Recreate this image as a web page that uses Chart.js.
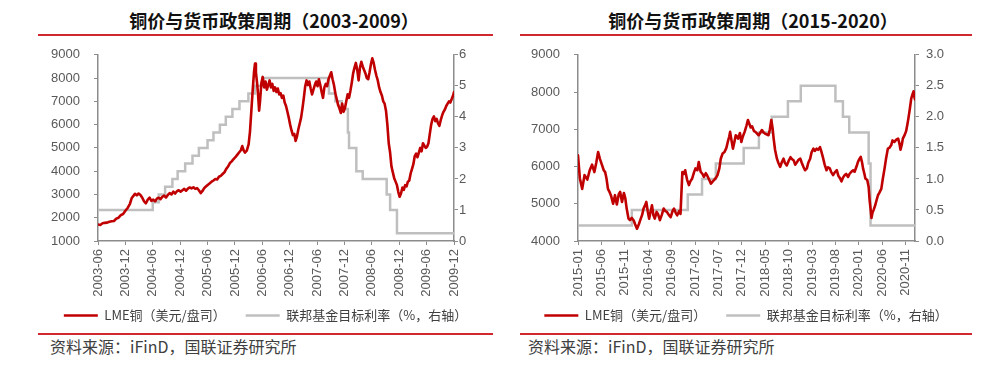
<!DOCTYPE html>
<html>
<head>
<meta charset="utf-8">
<script src="https://cdn.jsdelivr.net/npm/chart.js@4.4.1/dist/chart.umd.min.js"></script>
<style>
  body { margin: 0; background: #fff; width: 989px; height: 365px; position: relative; overflow: hidden; font-family: "Noto Sans CJK SC", sans-serif; }
  .ttl { position: absolute; top: 9px; width: 400px; text-align: center; font-size: 18px; font-weight: bold; line-height: 22px; color: #111; }
  .rl { position: absolute; height: 2px; background: #d0282e; }
  .src { position: absolute; top: 336px; font-size: 16px; line-height: 20px; color: #404040; white-space: nowrap; }
  .box { position: absolute; top: 33px; height: 299px; }
</style>
</head>
<body>
<div class="ttl" style="left:74px">铜价与货币政策周期（2003-2009）</div>
<div class="rl" style="left:38px;top:34px;width:455px"></div>
<div class="box" style="left:38px;width:455px"><canvas id="left"></canvas></div>
<div class="rl" style="left:38px;top:333px;width:455px"></div>
<div class="src" style="left:50px">资料来源：iFinD，国联证券研究所</div>

<div class="ttl" style="left:553px">铜价与货币政策周期（2015-2020）</div>
<div class="rl" style="left:520px;top:34px;width:452px"></div>
<div class="box" style="left:520px;width:452px"><canvas id="right"></canvas></div>
<div class="rl" style="left:520px;top:333px;width:452px"></div>
<div class="src" style="left:528px">资料来源：iFinD，国联证券研究所</div>

<script>
// legend names
const copperName = 'LME铜（美元/盘司）'
const fedName = '联邦基金目标利率（%，右轴）'

// left chart: months counted from 2003-06 (tick every 6 months)
const leftStart = [2003, 6]
const cuLeftM = [0,0.5,1,1.5,2,2.5,3,3.5,4,4.5,5,5.5,6,6.5,7,7.4,7.8,8.1,8.5,8.9,9.3,9.7,10.1,10.5,10.9,11.3,11.7,12.1,12.5,12.9,13.3,13.7,14.1,14.5,14.9,15.3,15.7,16.1,16.5,16.9,17.3,17.7,18.1,18.5,18.9,19.3,19.7,20.1,20.5,20.9,21.3,21.7,22.1,22.5,22.9,23.3,23.7,24.1,24.5,24.9,25.3,25.7,26.1,26.5,26.9,27.3,27.7,28.1,28.5,28.9,29.3,29.7,30.1,30.5,30.9,31.3,31.6,31.9,32.2,32.6,33.0,33.3,33.6,33.9,34.2,34.4,34.6,34.9,35.1,35.3,35.5,35.8,36.1,36.4,36.7,37.0,37.3,37.6,37.9,38.2,38.5,38.8,39.1,39.4,39.7,40.0,40.3,40.6,40.9,41.2,41.5,41.8,42.1,42.4,42.7,43.0,43.3,43.6,43.9,44.2,44.5,44.8,45.1,45.4,45.7,46.0,46.3,46.6,46.9,47.2,47.5,47.8,48.1,48.4,48.7,49.0,49.3,49.6,49.9,50.2,50.5,50.8,51.1,51.4,51.7,52.0,52.3,52.6,52.9,53.2,53.5,53.8,54.1,54.4,54.7,55.0,55.3,55.6,55.9,56.2,56.5,56.8,57.1,57.4,57.7,58.0,58.3,58.6,58.9,59.2,59.5,59.8,60.1,60.4,60.7,61.0,61.3,61.6,61.9,62.2,62.5,62.8,63.1,63.4,63.7,64.0,64.3,64.6,64.9,65.2,65.5,65.8,66.1,66.4,66.7,67.0,67.3,67.6,67.9,68.2,68.5,68.8,69.1,69.4,69.7,70.0,70.3,70.6,70.9,71.2,71.5,71.8,72.1,72.4,72.7,73.0,73.3,73.6,73.9,74.2,74.5,74.8,75.1,75.4,75.7,76.0,76.3,76.6,76.9,77.2,77.5,77.8,78.0]
const cuLeftV = [1710,1690,1760,1780,1790,1830,1850,1860,1960,2000,2110,2160,2300,2420,2600,2850,2950,3030,2960,3040,2980,2860,2700,2620,2780,2860,2720,2780,2700,2820,2860,2800,2900,2950,2870,2980,3060,3000,3120,3040,3140,3180,3120,3180,3240,3160,3250,3300,3260,3310,3240,3270,3180,3060,3150,3280,3350,3420,3480,3550,3600,3660,3640,3760,3800,3880,3950,4100,4200,4350,4420,4520,4600,4700,4800,4900,5080,4900,4800,4880,5150,5700,6600,7500,8300,8620,8250,7700,7200,6600,7000,7800,8050,7600,7850,7500,7700,7900,7600,7750,7450,7600,7400,7550,7300,7350,7150,7250,6950,6800,6550,6300,6000,5750,5550,5600,5300,5500,5800,6050,6300,6700,7150,7650,7900,7700,7850,7550,7300,7500,7700,7850,7650,7950,7700,7400,7150,7600,7750,7650,7950,8100,8250,7950,7700,7350,7100,6850,6700,6500,6900,6550,6700,7000,7300,7150,7450,7800,8200,8450,8650,8350,7900,8450,8700,8500,8350,8200,8000,7950,8250,8600,8850,8650,8350,8100,7900,7600,7400,7250,7000,6900,6600,6000,5200,4800,4200,3950,3700,3550,3400,3100,2900,3050,3300,3200,3400,3350,3550,3600,3900,4100,4300,4650,4750,4600,4800,5000,4850,5200,5100,5000,5050,5200,5600,6000,6250,6350,6150,6250,6050,5950,6200,6400,6550,6650,6800,6900,7000,6950,7100,7250,7400]
const fedLeftM = [0,12.0,13.3,14.7,16.3,17.45,19.1,20.7,22.1,24.0,25.3,26.7,28.0,29.45,31.0,32.95,34.35,36.0,50.6,52.0,53.4,54.75,55.0,56.6,58.0,63.25,64.0,65.5,78]
const fedLeftV = [1.0,1.25,1.5,1.75,2.0,2.25,2.5,2.75,3.0,3.25,3.5,3.75,4.0,4.25,4.5,4.75,5.0,5.25,4.75,4.5,4.25,3.5,3.0,2.25,2.0,1.5,1.0,0.25,0.25]

// right chart: months counted from 2015-01 (tick every 5 months)
const rightStart = [2015, 1]
const cuRightM = [0,0.4,0.9,1.4,2.0,2.5,3.0,3.5,3.9,4.3,4.7,5.1,5.5,5.8,6.1,6.4,6.8,7.1,7.5,7.9,8.3,8.7,9.0,9.4,9.8,10.1,10.4,10.8,11.1,11.5,11.9,12.2,12.6,13.0,13.3,13.7,14.0,14.3,14.6,14.9,15.2,15.5,15.8,16.1,16.4,16.8,17.1,17.5,17.9,18.3,18.7,19.0,19.4,19.8,20.2,20.5,20.9,21.2,21.6,21.9,22.1,22.3,22.6,22.9,23.3,23.7,24.0,24.4,24.8,25.1,25.5,25.8,26.2,26.6,26.9,27.3,27.6,28.0,28.4,28.8,29.1,29.5,29.8,30.2,30.5,30.9,31.3,31.7,32.0,32.3,32.5,32.8,33.1,33.4,33.7,34.0,34.2,34.6,34.9,35.2,35.6,36.0,36.3,36.6,36.9,37.2,37.6,37.9,38.3,38.6,38.9,39.3,39.6,40.0,40.4,40.7,41.0,41.3,41.6,41.8,42.1,42.5,42.8,43.2,43.5,43.9,44.2,44.6,45.0,45.4,45.7,46.1,46.4,46.8,47.1,47.5,47.8,48.2,48.5,48.9,49.2,49.6,49.9,50.3,50.6,51.0,51.3,51.7,52.0,52.4,52.7,53.1,53.4,53.8,54.1,54.5,54.9,55.3,55.6,56.0,56.3,56.6,57.0,57.3,57.7,58.0,58.4,58.8,59.1,59.5,59.8,60.1,60.4,60.7,60.9,61.2,61.4,61.8,62.1,62.3,62.5,62.7,62.9,63.2,63.5,63.8,64.1,64.4,64.8,65.1,65.5,65.8,66.2,66.5,66.9,67.2,67.6,68.0,68.4,68.7,68.9,69.2,69.4,69.8,70.1,70.4,70.6,70.9,71.2,71.5,71.7,71.9,72.0]
const cuRightV = [6300,5680,5400,5770,5650,5900,6050,5850,6100,6390,6200,6050,5900,5850,5670,5400,5300,5200,5000,5230,4980,5250,5320,5050,5290,5150,4870,4600,4560,4620,4550,4450,4330,4450,4560,4700,4870,4950,5050,4800,4600,4780,4960,4700,4600,4780,4720,4560,4700,4870,4800,4780,4700,4640,4800,4870,4750,4690,4800,4730,5300,5850,5800,5900,5650,5500,5600,5680,5850,5950,5900,6120,5860,5800,5720,5820,5760,5650,5540,5600,5640,5700,5770,5950,6210,6350,6390,6500,6660,6800,6930,6700,6480,6650,6840,6800,6750,6900,6660,6800,6930,7100,7250,7150,7050,7080,6950,6930,6880,6840,6900,6980,6920,6880,6860,6840,7000,7250,7000,6750,6450,6210,6100,5990,6100,6210,6100,6030,6150,6250,6200,6160,6050,6120,6180,6210,6100,5980,5900,5950,6100,6210,6380,6480,6420,6480,6450,6520,6400,6210,6050,5900,5980,5950,5850,5770,5850,5900,5760,5680,5600,5700,5770,5800,5720,5800,5860,5900,5860,6000,6120,6200,6260,6100,5950,5800,5680,5640,5450,5100,4870,4620,4750,4850,4960,5100,5230,5300,5400,5650,5950,6200,6480,6500,6570,6700,6660,6720,6750,6600,6450,6600,6750,6850,6950,7150,7300,7550,7830,7950,8020,7850,7800]
const fedRightM = [0,11.5,23.45,26.5,29.45,35.4,38.65,41.4,44.85,47.6,55.0,56.6,57.95,62.1,62.5,72]
const fedRightV = [0.25,0.5,0.75,1.0,1.25,1.5,1.75,2.0,2.25,2.5,2.25,2.0,1.75,1.25,0.25,0.25]

const RED = '#c00000'
const GREY = '#bfbfbf'
const AXIS = '#8c8c8c'
const LABEL = '#595959'
const TICK_FONT = '13px "Liberation Sans", Arial, sans-serif'

Chart.defaults.font.family = '"Liberation Sans", Arial, "Noto Sans CJK SC", sans-serif'
Chart.defaults.font.size = 13
Chart.defaults.color = LABEL

function pts(xs, ys) {
  return xs.map((x, i) => ({x: x, y: ys[i]}))
}

function monthLabel(start, v) {
  let n = start[1] - 1 + v
  let y = start[0] + Math.floor(n / 12)
  let m = n % 12 + 1
  return y + '-' + (m < 10 ? '0' + m : m)
}

// vertical date labels under the x axis, drawn at the scale's own tick positions
function dateLabels(start) {
  return {
    id: 'dateLabels',
    afterDraw(chart) {
      const s = chart.scales.x
      const ctx = chart.ctx
      ctx.save()
      ctx.fillStyle = LABEL
      ctx.font = TICK_FONT
      ctx.textAlign = 'right'
      ctx.textBaseline = 'middle'
      s.ticks.forEach(t => {
        ctx.save()
        ctx.translate(s.getPixelForValue(t.value), s.top + 8)
        ctx.rotate(-Math.PI / 2)
        ctx.fillText(monthLabel(start, t.value), 0, 0)
        ctx.restore()
      })
      ctx.restore()
    }
  }
}

function axisY(pos, min, max, step, width, pad, fmt) {
  return {
    type: 'linear', position: pos, min: min, max: max,
    afterFit: (s) => { s.width = width },
    border: {display: true, color: AXIS, width: 1.5},
    grid: {display: true, drawOnChartArea: false, drawTicks: true, tickLength: 4, color: AXIS, lineWidth: 1},
    ticks: {stepSize: step, padding: pad, color: LABEL, font: {size: 13}, callback: fmt}
  }
}

function makeChart(id, o) {
  new Chart(document.getElementById(id), {
    type: 'line',
    data: {
      datasets: [
        {label: copperName, data: pts(o.cuM, o.cuV), yAxisID: 'y', borderColor: RED, backgroundColor: RED,
         borderWidth: 2.6, borderJoinStyle: 'round', borderCapStyle: 'round',
         pointRadius: 0, pointStyle: 'line', tension: 0},
        {label: fedName, data: pts(o.fedM, o.fedV), yAxisID: 'y1', borderColor: GREY, backgroundColor: GREY,
         borderWidth: 2.5, pointRadius: 0, pointStyle: 'line', stepped: true}
      ]
    },
    options: {
      responsive: true,
      maintainAspectRatio: false,
      animation: false,
      layout: {padding: 0},
      plugins: {
        legend: {
          position: 'bottom',
          labels: {usePointStyle: true, pointStyleWidth: 34, padding: 20, color: '#404040',
                   font: {size: 13, family: '"Noto Sans CJK SC", sans-serif'}}
        },
        tooltip: {enabled: false}
      },
      scales: {
        x: {
          type: 'linear', min: 0, max: o.xMax,
          afterFit: (s) => { s.height = 48 },
          afterBuildTicks: (s) => {
            const t = []
            for (let v = 0; v <= o.xMax; v += o.step) t.push({value: v})
            s.ticks = t
          },
          border: {display: true, color: AXIS, width: 1.5},
          grid: {display: true, drawOnChartArea: false, drawTicks: true, tickLength: 4, color: AXIS, lineWidth: 1},
          ticks: {stepSize: o.step, autoSkip: false, display: false}
        },
        y: axisY('left', o.yMin, o.yMax, 1000, o.wl, 14, (v) => v),
        y1: axisY('right', 0, o.rMax, o.rStep, o.wr, o.rPad, o.rFmt)
      }
    },
    plugins: [dateLabels(o.start)]
  })
}

makeChart('left', {cuM: cuLeftM, cuV: cuLeftV, fedM: fedLeftM, fedV: fedLeftV, start: leftStart,
  xMax: 78, step: 6, yMin: 1000, yMax: 9000, rMax: 6, rStep: 1, wl: 60, wr: 39, rPad: 1, rFmt: (v) => v})
makeChart('right', {cuM: cuRightM, cuV: cuRightV, fedM: fedRightM, fedV: fedRightV, start: rightStart,
  xMax: 72, step: 5, yMin: 4000, yMax: 9000, rMax: 3, rStep: 0.5, wl: 58, wr: 57, rPad: 7, rFmt: (v) => v.toFixed(1)})
</script>
</body>
</html>
